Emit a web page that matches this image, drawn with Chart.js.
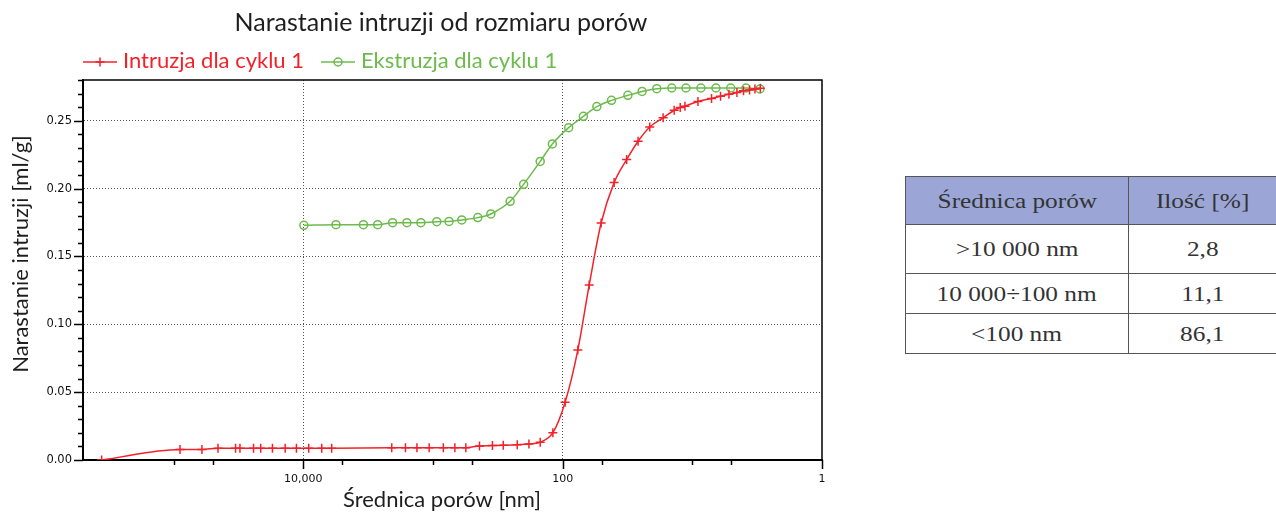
<!DOCTYPE html>
<html>
<head>
<meta charset="utf-8">
<script src="https://cdn.jsdelivr.net/npm/chart.js@4.4.1/dist/chart.umd.min.js"></script>
<style>
html, body { margin: 0; padding: 0; background: #fff; width: 1276px; height: 513px; overflow: hidden; }
#wrap { position: absolute; left: 0; top: 0; width: 880px; height: 513px; }
#tbl { position: absolute; left: 905px; top: 176px; border-collapse: collapse;
       font-family: 'Liberation Serif', 'Times New Roman', serif; font-size: 22px; color: #333; }
#tbl td { border: 1.5px solid #555; text-align: center; padding: 0; }
#tbl tr.head td { background: #9ba6d6; height: 47px; }
#tbl tr.r0 td { height: 48px; }
#tbl tr.r1 td, #tbl tr.r2 td { height: 39px; }
#tbl td.c0 { width: 226px; }
#tbl td.c1 { width: 150px; border-right: none; }
#tbl span { display: inline-block; transform: scaleX(1.15); }
</style>
</head>
<body>
<div id="wrap"><canvas id="pores-chart" width="880" height="513"></canvas></div>
<table id="tbl"></table>
<script>
// pore diameter [nm] and cumulative volume [ml/g]
const intrusionDiameter = [359000, 89300, 60500, 45500, 33300, 30800, 24200, 21300, 17300, 13800,
    11300, 9080, 7210, 6040, 2080, 1630, 1330, 1070, 832, 678,
    558, 438, 348, 287, 224, 182, 149, 119, 95.7, 76.4,
    62.4, 50.5, 40.1, 32.1, 26.2, 21.3, 16.8, 13.8, 12.4, 11.4,
    9.05, 7.11, 6.06, 5.22, 4.53, 4.03, 3.62, 3.29, 2.99];
const intrusionVolume = [0.0000, 0.0078, 0.0078, 0.0087, 0.0087, 0.0087, 0.0087, 0.0087, 0.0087, 0.0087,
    0.0087, 0.0087, 0.0087, 0.0087, 0.0090, 0.0090, 0.0090, 0.0090, 0.0090, 0.0090,
    0.0090, 0.0104, 0.0106, 0.0108, 0.0113, 0.0118, 0.0131, 0.0201, 0.0426, 0.0810,
    0.1290, 0.1746, 0.2044, 0.2214, 0.2349, 0.2454, 0.2521, 0.2577, 0.2597, 0.2607,
    0.2642, 0.2664, 0.2680, 0.2695, 0.2708, 0.2720, 0.2727, 0.2734, 0.2740];
const extrusionDiameter = [9900, 5600, 3440, 2670, 2050, 1590, 1240, 935, 752, 600,
    451, 358, 254, 200, 149, 120, 89.9, 69.2, 54.5, 42.0,
    31.4, 24.4, 18.8, 14.4, 11.2, 8.59, 6.58, 5.06, 3.86, 3.01];
const extrusionVolume = [0.1729, 0.1734, 0.1734, 0.1734, 0.1749, 0.1749, 0.1749, 0.1756, 0.1758, 0.1769,
    0.1786, 0.1813, 0.1906, 0.2031, 0.2200, 0.2329, 0.2449, 0.2532, 0.2604, 0.2650,
    0.2687, 0.2716, 0.2736, 0.2741, 0.2741, 0.2741, 0.2741, 0.2741, 0.2741, 0.2734];

const seriesNames = ['Intruzja dla cyklu 1', 'Ekstruzja dla cyklu 1'];
const seriesColors = ['#f3222a', '#6cbb4c'];
const xTickValues = [100000, 50000, 10000, 5000, 1000, 500, 100, 50, 10, 5, 1];
const xTickLabels = {10000: '10,000', 100: '100', 1: '1'};
const chartTitle = 'Narastanie intruzji od rozmiaru porów';
const xTitle = 'Średnica porów [nm]';
const yTitle = 'Narastanie intruzji [ml/g]';

const tableHead = ['Średnica porów', 'Ilość [%]'];
const tableRanges = ['>10 000 nm', '10 000÷100 nm', '<100 nm'];
const tableShares = ['2,8', '11,1', '86,1'];

const toPoints = (xs, ys) => xs.map((x, i) => ({x: x, y: ys[i]}));
const isMajorX = (v) => xTickLabels[v] !== undefined;
const isMajorY = (v) => Math.round(v * 100) % 5 === 0;

const titleFont = '25px Lato';
const textFont = '22px Lato';
const textColor = '#1e1e1e';

const drawMarker = (ctx, style, x, y, color) => {
    ctx.save();
    ctx.strokeStyle = color;
    ctx.lineWidth = 1.5;
    ctx.beginPath();
    if (style === 'cross') {
        ctx.moveTo(x - 4.5, y); ctx.lineTo(x + 4.5, y);
        ctx.moveTo(x, y - 4.5); ctx.lineTo(x, y + 4.5);
    } else {
        ctx.arc(x, y, 4, 0, Math.PI * 2);
    }
    ctx.stroke();
    ctx.restore();
};

// frame, tick marks, title, legend and axis titles
const decorations = {
    id: 'decorations',
    afterDraw(chart) {
        const {ctx, chartArea} = chart;
        const xs = chart.scales.x, ys = chart.scales.y;
        ctx.save();
        ctx.strokeStyle = '#000';
        ctx.lineWidth = 1.5;
        ctx.beginPath();
        ctx.moveTo(chartArea.left, chartArea.top);
        ctx.lineTo(chartArea.right, chartArea.top);
        ctx.lineTo(chartArea.right, chartArea.bottom);
        ctx.stroke();

        ctx.beginPath();
        ys.ticks.forEach(t => {
            const y = Math.round(ys.getPixelForValue(t.value)) + 0.5;
            const len = isMajorY(t.value) ? 9 : 5;
            ctx.moveTo(chartArea.left - len, y);
            ctx.lineTo(chartArea.left, y);
        });
        xs.ticks.forEach(t => {
            const x = Math.round(xs.getPixelForValue(t.value)) + 0.5;
            const len = isMajorX(t.value) ? 9 : 5;
            ctx.moveTo(x, chartArea.bottom);
            ctx.lineTo(x, chartArea.bottom + len);
        });
        ctx.stroke();

        ctx.fillStyle = textColor;
        ctx.textBaseline = 'alphabetic';
        ctx.textAlign = 'center';
        ctx.font = titleFont;
        ctx.fillText(chartTitle, 441, 31);
        ctx.font = textFont;
        ctx.fillText(xTitle, 442, 507);

        ctx.save();
        ctx.translate(28, 254);
        ctx.rotate(-Math.PI / 2);
        ctx.fillText(yTitle, 0, 0);
        ctx.restore();

        // legend
        let lx = chartArea.left;
        const ly = 62;
        ctx.textAlign = 'left';
        chart.data.datasets.forEach(ds => {
            ctx.strokeStyle = ds.borderColor;
            ctx.lineWidth = 1.5;
            ctx.beginPath();
            ctx.moveTo(lx, ly);
            ctx.lineTo(lx + 34, ly);
            ctx.stroke();
            drawMarker(ctx, ds.pointStyle, lx + 17, ly, ds.borderColor);
            ctx.fillStyle = ds.borderColor;
            ctx.fillText(ds.label, lx + 40, 68);
            lx += 40 + ctx.measureText(ds.label).width + 17;
        });
        ctx.restore();
    }
};

const ctx = document.getElementById('pores-chart').getContext('2d');
const poresChart = new Chart(ctx, {
    type: 'line',
    data: {
        datasets: [{
            label: seriesNames[0],
            data: toPoints(intrusionDiameter, intrusionVolume),
            borderColor: seriesColors[0],
            borderWidth: 1.5,
            pointStyle: 'cross',
            pointRadius: 4.5,
            pointBorderWidth: 1.5,
            pointBorderColor: seriesColors[0],
            fill: false,
            cubicInterpolationMode: 'monotone'
        }, {
            label: seriesNames[1],
            data: toPoints(extrusionDiameter, extrusionVolume),
            borderColor: seriesColors[1],
            borderWidth: 1.5,
            pointStyle: 'circle',
            pointRadius: 4,
            pointBorderWidth: 1.5,
            pointBorderColor: seriesColors[1],
            pointBackgroundColor: 'rgba(0,0,0,0)',
            fill: false,
            cubicInterpolationMode: 'monotone'
        }]
    },
    options: {
        responsive: false,
        animation: false,
        layout: {
            padding: {top: 80, right: 58, bottom: 0, left: 0}
        },
        plugins: {
            legend: {display: false},
            title: {display: false},
            tooltip: {enabled: false}
        },
        scales: {
            x: {
                type: 'logarithmic',
                reverse: true,
                min: 1,
                max: 500000,
                afterBuildTicks: (scale) => {
                    scale.ticks = xTickValues.map(v => ({value: v}));
                },
                afterFit: (scale) => { scale.height = 53; },
                border: {display: true, color: '#000', width: 2, dash: [1, 2]},
                grid: {
                    drawTicks: false,
                    lineWidth: 1,
                    color: (c) => (c.tick && isMajorX(c.tick.value) && c.tick.value !== 1) ? '#555' : 'rgba(0,0,0,0)'
                },
                ticks: {
                    autoSkip: false,
                    maxRotation: 0,
                    padding: 13,
                    color: '#111',
                    font: {family: 'DejaVu Sans', size: 11},
                    callback: (v) => xTickLabels[v] !== undefined ? xTickLabels[v] : ''
                }
            },
            y: {
                min: 0,
                max: 0.28,
                afterFit: (scale) => { scale.width = 83; },
                border: {display: true, color: '#000', width: 2, dash: [1, 2]},
                grid: {
                    drawTicks: false,
                    lineWidth: 1,
                    color: (c) => {
                        if (!c.tick) return 'rgba(0,0,0,0)';
                        const k = Math.round(c.tick.value * 100);
                        return (k % 5 === 0 && k > 0 && k < 28) ? '#555' : 'rgba(0,0,0,0)';
                    }
                },
                ticks: {
                    stepSize: 0.01,
                    autoSkip: false,
                    padding: 11,
                    color: '#111',
                    font: {family: 'DejaVu Sans', size: 11.5},
                    callback: (v) => isMajorY(v) ? v.toFixed(2) : ''
                }
            }
        }
    },
    plugins: [decorations]
});

// side table
const tbl = document.getElementById('tbl');
const addRow = (cells, cls) => {
    const tr = document.createElement('tr');
    tr.className = cls;
    cells.forEach((text, i) => {
        const td = document.createElement('td');
        td.className = 'c' + i;
        const sp = document.createElement('span');
        sp.textContent = text;
        td.appendChild(sp);
        tr.appendChild(td);
    });
    tbl.appendChild(tr);
};
addRow(tableHead, 'head');
tableRanges.forEach((r, i) => addRow([r, tableShares[i]], 'r' + i));
</script>
</body>
</html>
